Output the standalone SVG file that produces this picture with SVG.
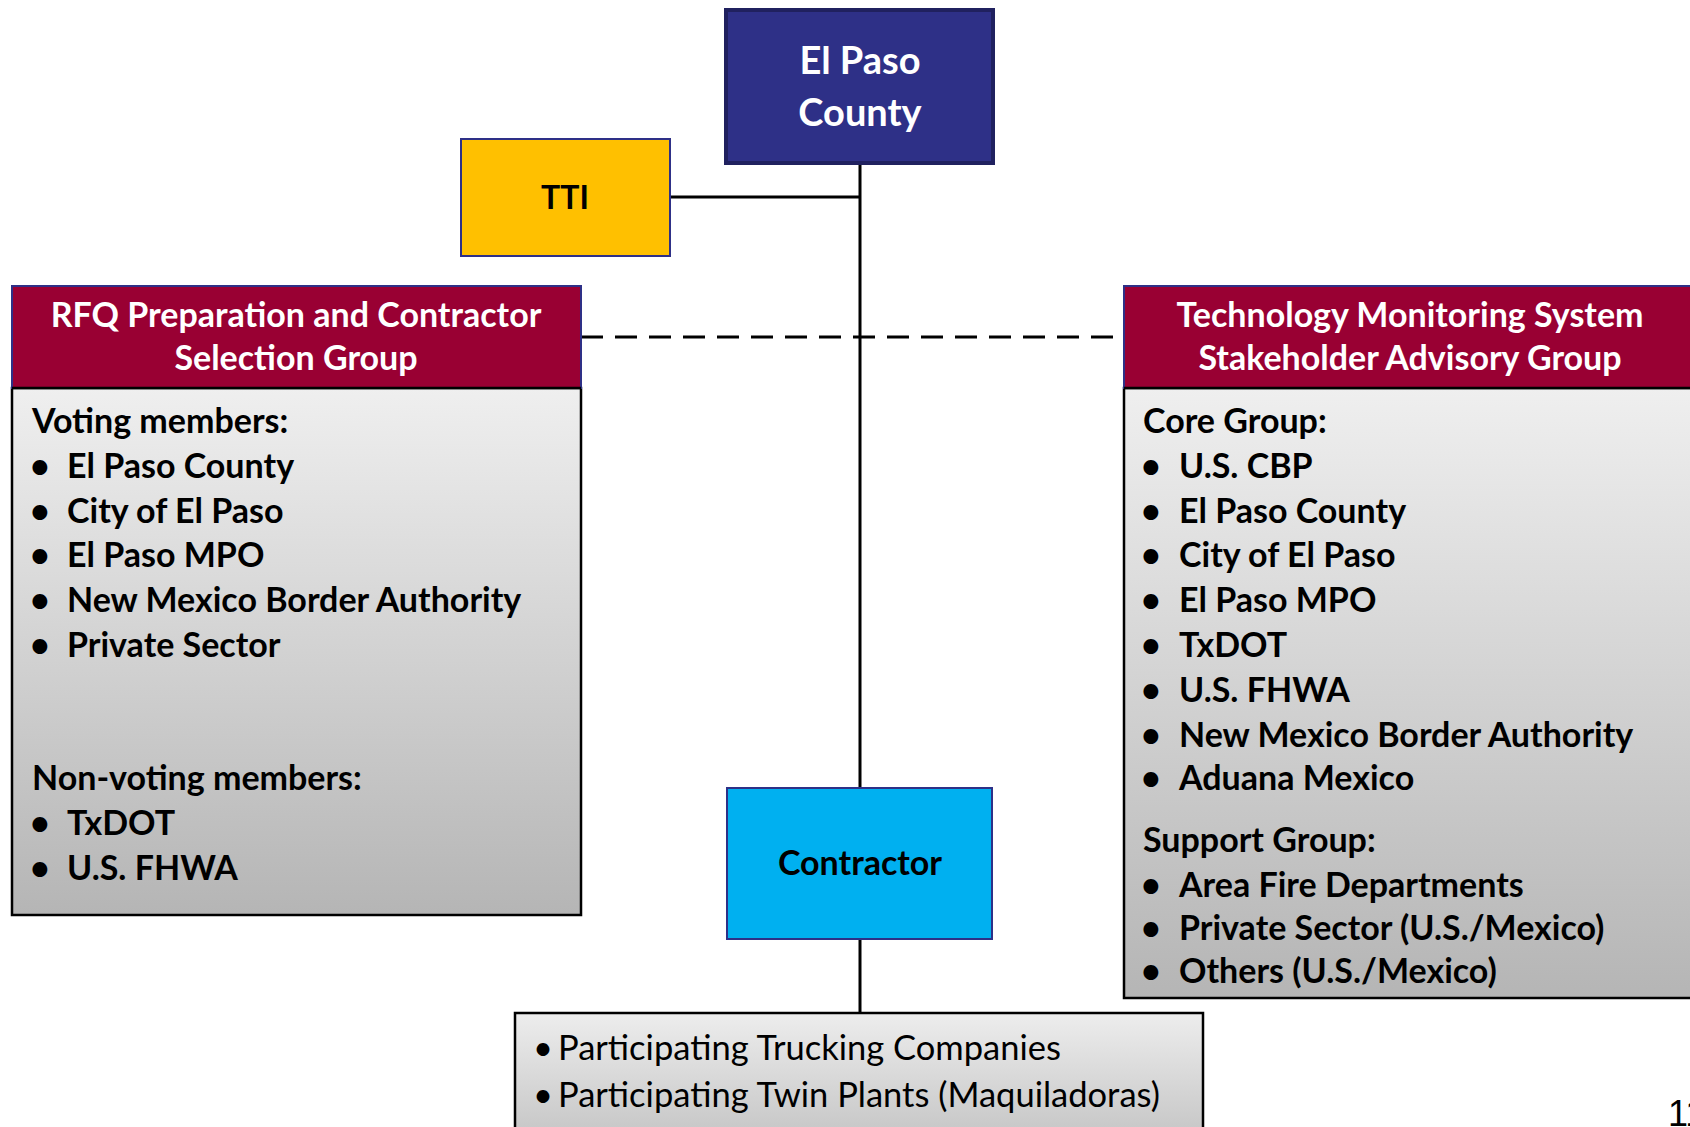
<svg xmlns="http://www.w3.org/2000/svg" width="1690" height="1127" viewBox="0 0 1690 1127">
<defs>
<linearGradient id="gray" x1="0" y1="0" x2="0" y2="1">
<stop offset="0" stop-color="#EFEFEF"/>
<stop offset="1" stop-color="#B5B5B5"/>
</linearGradient>
<linearGradient id="gray2" x1="0" y1="0" x2="0" y2="1">
<stop offset="0" stop-color="#EDEDED"/>
<stop offset="1" stop-color="#C4C4C4"/>
</linearGradient>
<style>
.t{font-family:Lato,"Open Sans","Liberation Sans",sans-serif;font-weight:bold;font-size:34px;fill:#000}
.w{fill:#fff}
.h{font-size:34px;text-anchor:middle}
.c{text-anchor:middle}
.r{font-family:Lato,"Open Sans","Liberation Sans",sans-serif;font-weight:normal;font-size:34.5px;fill:#000}
.hdr{fill:#990033;stroke:#2E3087;stroke-width:2}
.body{fill:url(#gray);stroke:#000;stroke-width:2.5}
.conn{stroke:#000;stroke-width:3;fill:none}
</style>
</defs>
<rect width="1690" height="1127" fill="#fff"/>

<g id="connectors">
<line class="conn" x1="860" y1="163" x2="860" y2="788"/>
<line class="conn" x1="670" y1="197" x2="860" y2="197"/>
<line class="conn" x1="581" y1="337" x2="1124" y2="337" stroke-dasharray="22,12"/>
<line class="conn" x1="860" y1="939" x2="860" y2="1013"/>
</g>

<g id="el-paso-county">
<rect x="726" y="10" width="267" height="153" fill="#2E3087" stroke="#20215F" stroke-width="4"/>
<text class="t w c" x="860" y="74" style="font-size:38px">El Paso</text>
<text class="t w c" x="860" y="126" style="font-size:38px">County</text>
</g>

<g id="tti">
<rect x="461" y="139" width="209" height="117" fill="#FFC000" stroke="#2E3087" stroke-width="2"/>
<text class="t c" x="565" y="209" style="font-size:32px">TTI</text>
</g>

<g id="rfq-group">
<rect class="body" x="12" y="388" width="569" height="527"/>
<rect class="hdr" x="12" y="286" width="569" height="102"/>
<line x1="12" y1="388" x2="581" y2="388" stroke="#000" stroke-width="2.5"/>
<text class="t w h" x="296" y="327">RFQ Preparation and Contractor</text>
<text class="t w h" x="296" y="370">Selection Group</text>
<text class="t" x="32" y="433">Voting members:</text>
<text class="t" x="30" y="478">•</text><text class="t" x="67" y="478">El Paso County</text>
<text class="t" x="30" y="523">•</text><text class="t" x="67" y="523">City of El Paso</text>
<text class="t" x="30" y="567">•</text><text class="t" x="67" y="567">El Paso MPO</text>
<text class="t" x="30" y="612">•</text><text class="t" x="67" y="612">New Mexico Border Authority</text>
<text class="t" x="30" y="657">•</text><text class="t" x="67" y="657">Private Sector</text>
<text class="t" x="32" y="790">Non-voting members:</text>
<text class="t" x="30" y="835">•</text><text class="t" x="67" y="835">TxDOT</text>
<text class="t" x="30" y="880">•</text><text class="t" x="67" y="880">U.S. FHWA</text>
</g>

<g id="stakeholder-group">
<rect class="body" x="1124" y="388" width="574" height="610"/>
<rect class="hdr" x="1124" y="286" width="574" height="102"/>
<line x1="1124" y1="388" x2="1698" y2="388" stroke="#000" stroke-width="2.5"/>
<text class="t w h" x="1410" y="327">Technology Monitoring System</text>
<text class="t w h" x="1410" y="370">Stakeholder Advisory Group</text>
<text class="t" x="1143" y="433">Core Group:</text>
<text class="t" x="1141" y="478">•</text><text class="t" x="1179" y="478">U.S. CBP</text>
<text class="t" x="1141" y="523">•</text><text class="t" x="1179" y="523">El Paso County</text>
<text class="t" x="1141" y="567">•</text><text class="t" x="1179" y="567">City of El Paso</text>
<text class="t" x="1141" y="612">•</text><text class="t" x="1179" y="612">El Paso MPO</text>
<text class="t" x="1141" y="657">•</text><text class="t" x="1179" y="657">TxDOT</text>
<text class="t" x="1141" y="702">•</text><text class="t" x="1179" y="702">U.S. FHWA</text>
<text class="t" x="1141" y="747">•</text><text class="t" x="1179" y="747">New Mexico Border Authority</text>
<text class="t" x="1141" y="790">•</text><text class="t" x="1179" y="790">Aduana Mexico</text>
<text class="t" x="1143" y="852">Support Group:</text>
<text class="t" x="1141" y="897">•</text><text class="t" x="1179" y="897">Area Fire Departments</text>
<text class="t" x="1141" y="940">•</text><text class="t" x="1179" y="940">Private Sector (U.S./Mexico)</text>
<text class="t" x="1141" y="983">•</text><text class="t" x="1179" y="983">Others (U.S./Mexico)</text>
</g>

<g id="contractor">
<rect x="727" y="788" width="265" height="151" fill="#00B0F0" stroke="#2E3087" stroke-width="2"/>
<text class="t c" x="860" y="875">Contractor</text>
</g>

<g id="participants">
<rect x="515" y="1013" width="688" height="130" fill="url(#gray2)" stroke="#000" stroke-width="2.5"/>
<text class="r" x="533" y="1060">•</text><text class="r" x="558" y="1060">Participating Trucking Companies</text>
<text class="r" x="533" y="1107">•</text><text class="r" x="558" y="1107">Participating Twin Plants (Maquiladoras)</text>
</g>

<text x="1668" y="1126" style="font-family:'Liberation Sans',Arial,sans-serif;font-size:36px;fill:#000">11</text>
</svg>
